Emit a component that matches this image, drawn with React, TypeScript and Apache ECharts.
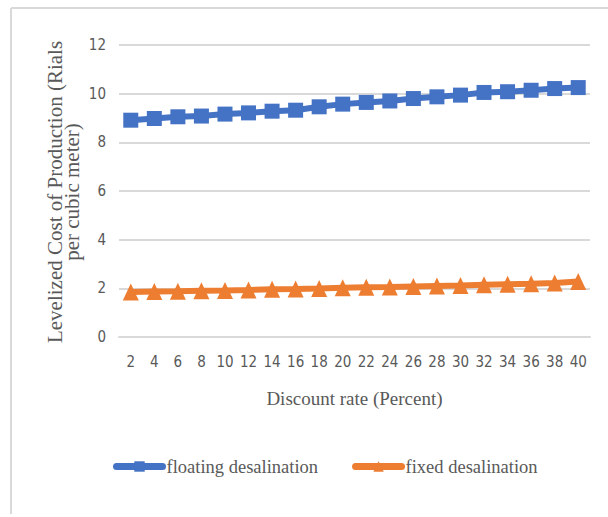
import React, { useEffect, useRef } from "react";
import * as echarts from "echarts";

const categories = ["2","4","6","8","10","12","14","16","18","20","22","24","26","28","30","32","34","36","38","40"];
const floating = [8.91, 8.98, 9.05, 9.08, 9.16, 9.21, 9.28, 9.32, 9.46, 9.57, 9.64, 9.7, 9.8, 9.87, 9.94, 10.05, 10.08, 10.14, 10.21, 10.25];
const fixed = [1.85, 1.87, 1.88, 1.9, 1.91, 1.93, 1.96, 1.97, 1.99, 2.02, 2.04, 2.05, 2.08, 2.1, 2.12, 2.15, 2.17, 2.19, 2.22, 2.28];

const serif = "'Liberation Serif', 'DejaVu Serif', serif";
const narrow = "'Liberation Sans Narrow', 'DejaVu Sans Condensed', 'Liberation Sans', sans-serif";
const gray = "#595959";

export default function App() {
  const ref = useRef<HTMLDivElement>(null);
  useEffect(() => {
    if (!ref.current) return;
    const chart = echarts.init(ref.current, undefined, { renderer: "svg" });
    chart.setOption({
      animation: false,
      backgroundColor: "#ffffff",
      grid: { left: 119, right: 18, top: 45, bottom: 180 },
      graphic: [
        { type: "line", shape: { x1: 11, y1: 8, x2: 11, y2: 514 }, style: { stroke: "#d9d9d9", lineWidth: 2 } },
        { type: "line", shape: { x1: 11, y1: 8, x2: 608, y2: 8 }, style: { stroke: "#d9d9d9", lineWidth: 2 } },
        {
          type: "text",
          x: 63,
          y: 192,
          rotation: Math.PI / 2,
          style: {
            text: "Levelized Cost of Production (Rials\nper cubic meter)",
            font: "21px " + serif,
            fill: gray,
            align: "center",
            verticalAlign: "middle",
            lineHeight: 17,
          },
        },
      ],
      legend: {
        top: 452,
        left: 108,
        itemWidth: 46,
        itemHeight: 13,
        itemGap: 34,
        lineStyle: { width: 7, cap: "round" },
        textStyle: { fontFamily: serif, fontSize: 18.5, color: gray, padding: [0, 0, 0, -1] },
        data: ["floating desalination", "fixed desalination"],
      },
      xAxis: {
        type: "category",
        data: categories,
        name: "Discount rate (Percent)",
        nameLocation: "middle",
        nameGap: 52,
        nameTextStyle: { fontFamily: serif, fontSize: 19, color: gray },
        axisLine: { lineStyle: { color: "#d9d9d9", width: 2 } },
        axisTick: { show: false },
        axisLabel: { fontFamily: narrow, fontSize: 15, color: gray, margin: 17 },
      },
      yAxis: {
        type: "value",
        min: 0,
        max: 12,
        interval: 2,
        axisLine: { show: false },
        axisTick: { show: false },
        axisLabel: { fontFamily: narrow, fontSize: 15, color: gray, margin: 13 },
        splitLine: { lineStyle: { color: "#d9d9d9", width: 2 } },
      },
      series: [
        {
          name: "floating desalination",
          type: "line",
          data: floating,
          color: "#4472c4",
          lineStyle: { width: 6 },
          symbol: "rect",
          symbolSize: 15,
        },
        {
          name: "fixed desalination",
          type: "line",
          data: fixed,
          color: "#ed7d31",
          lineStyle: { width: 6 },
          symbol: "triangle",
          symbolSize: [16, 17],
        },
      ],
    });
    return () => chart.dispose();
  }, []);
  return <div ref={ref} style={{ position: "fixed", left: 0, top: 0, width: 608, height: 517 }} />;
}
